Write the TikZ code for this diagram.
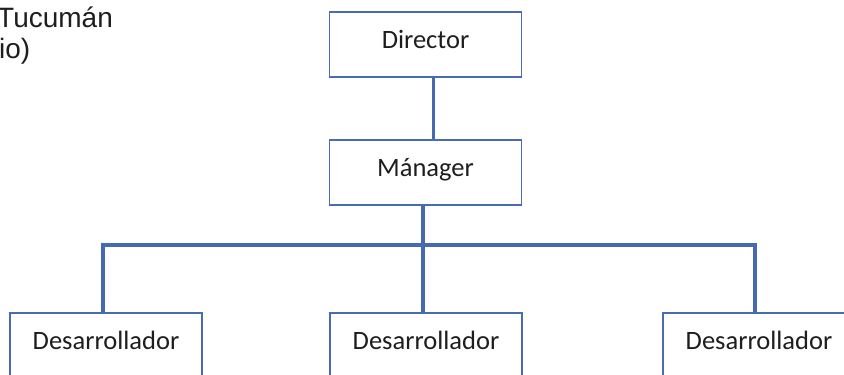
\documentclass[tikz,border=0pt]{standalone}
\usepackage{fontspec}
\setmainfont{Carlito}
\newfontfamily\headfont{Liberation Sans}
\definecolor{frame}{RGB}{72,108,176}
\definecolor{link}{RGB}{70,106,178}
\definecolor{ink}{RGB}{30,30,30}
\begin{document}
\begin{tikzpicture}[x=1pt,y=-1pt,
  orgbox/.style={draw=frame,line width=1.5pt,fill=white,minimum width=192pt,minimum height=65pt,
    inner sep=0pt,text=ink,font=\fontsize{26.5}{30}\selectfont,text height=17pt,text depth=10pt},
  wire/.style={draw=link,line width=3.2pt},
  caption/.style={text=ink,font=\headfont\fontsize{28}{31}\selectfont,inner sep=0pt}]
\useasboundingbox (0,0) rectangle (844,375);
\clip (0,0) rectangle (844,375);

% partial heading text at the upper left
\node[caption,anchor=base west] (head1) at (-3,27) {Tucumán};
\node[caption,anchor=base west] (head2) at (-1,58) {io)};

% hierarchy boxes
\node[orgbox] (dir) at (425.5,44.5) {Director};
\node[orgbox] (man) at (425.5,172.5) {Mánager};
\node[orgbox] (dev1) at (106,345.5) {Desarrollador};
\node[orgbox] (dev2) at (426,345.5) {Desarrollador};
\node[orgbox] (dev3) at (759,345.5) {Desarrollador};

% connectors
\coordinate (bus) at (423,245);
\draw[wire] ([xshift=8pt]dir.south) -- ([xshift=8pt]man.north);
\draw[wire] ([xshift=-2.5pt]man.south) -- (bus);
\draw[wire,line cap=rect] ([xshift=-3pt]dev1.north) |- ([xshift=-4pt]dev3.north |- bus) -- ([xshift=-4pt]dev3.north);
\draw[wire] (bus) -- ([xshift=-3pt]dev2.north);
\end{tikzpicture}
\end{document}
